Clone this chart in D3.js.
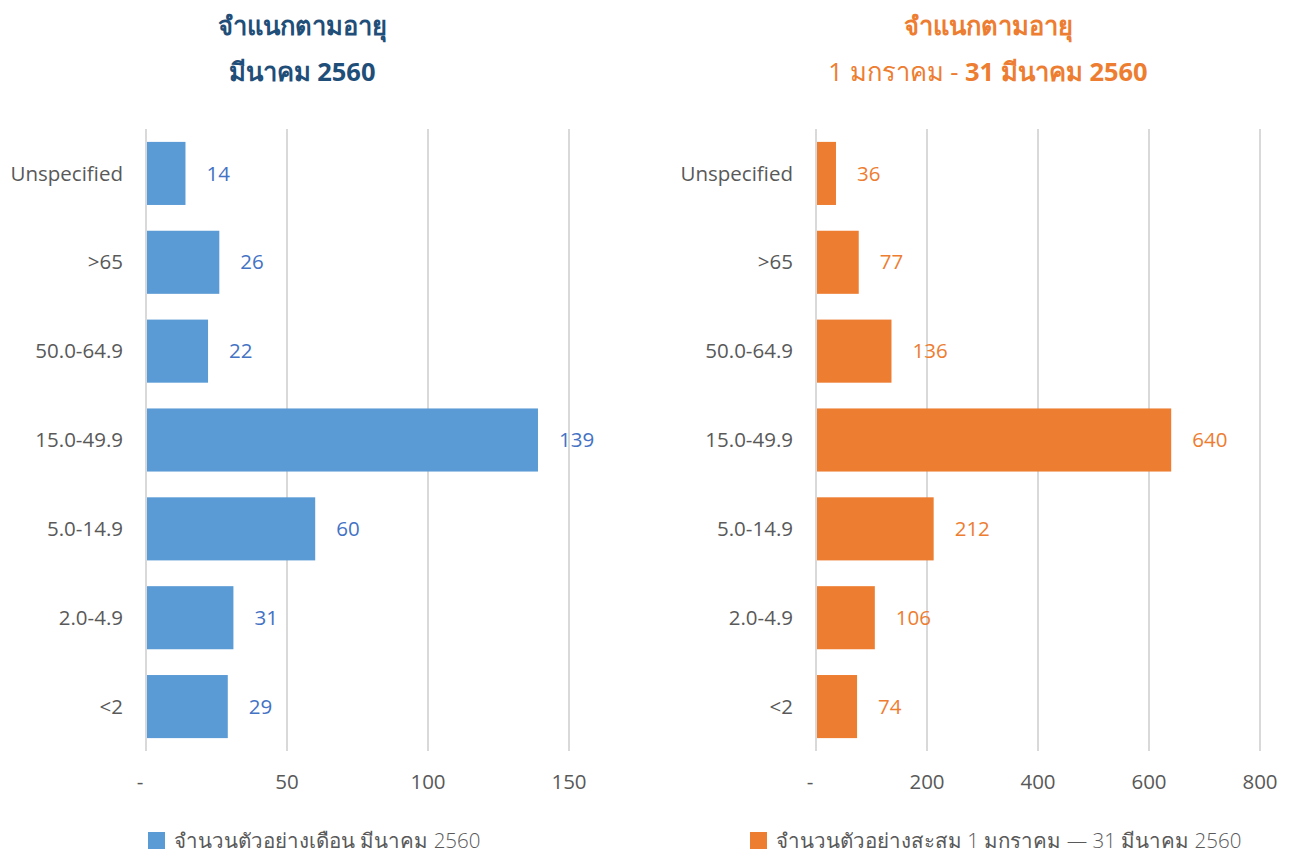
<!DOCTYPE html>
<html>
<head>
<meta charset="utf-8">
<script src="https://cdn.jsdelivr.net/npm/d3@7"></script>
<style>
  body { margin: 0; background: #fff; }
  svg { display: block; font-family: "Open Sans", "Noto Sans", sans-serif; }
</style>
</head>
<body>
<div id="chart"></div>
<script>
const categories = ["Unspecified", ">65", "50.0-64.9", "15.0-49.9", "5.0-14.9", "2.0-4.9", "<2"];
const monthValues = [14, 26, 22, 139, 60, 31, 29];
const cumulativeValues = [36, 77, 136, 640, 212, 106, 74];
const monthTicks = [0, 50, 100, 150];
const cumulativeTicks = [0, 200, 400, 600, 800];

const W = 1291, H = 855;
const svg = d3.select("#chart").append("svg").attr("width", W).attr("height", H);

const panels = [
  {
    values: monthValues, ticks: monthTicks, x0: 146, x1: 569, domain: [0, 150],
    barColor: "#5B9BD5", labelColor: "#4472C4", titleColor: "#1F4E79", cx: 302, catX: 123,
    title1: [{ t: "จำแนกตามอายุ", b: true }],
    title2: [{ t: "มีนาคม 2560", b: true }],
    legend: "จำนวนตัวอย่างเดือน มีนาคม 2560", legX: 148
  },
  {
    values: cumulativeValues, ticks: cumulativeTicks, x0: 816, x1: 1260, domain: [0, 800],
    barColor: "#ED7D31", labelColor: "#ED7D31", titleColor: "#ED7D31", cx: 988, catX: 793,
    title1: [{ t: "จำแนกตามอายุ", b: true }],
    title2: [{ t: "1 มกราคม - ", b: false }, { t: "31 มีนาคม 2560", b: true }],
    legend: "จำนวนตัวอย่างสะสม 1 มกราคม — 31 มีนาคม 2560", legX: 750
  }
];

const y = d3.scaleBand().domain(categories).range([129, 751]).paddingInner(0.29).paddingOuter(0.145);

panels.forEach(p => {
  const x = d3.scaleLinear().domain(p.domain).range([p.x0, p.x1]);
  const g = svg.append("g");

  // gridlines
  g.selectAll(".grid").data(p.ticks).join("line")
    .attr("x1", d => x(d)).attr("x2", d => x(d))
    .attr("y1", 129).attr("y2", 751)
    .attr("stroke", "#d9d9d9").attr("stroke-width", 2);

  // tick labels
  g.selectAll(".tick").data(p.ticks).join("text")
    .attr("x", d => x(d)).attr("y", 789)
    .attr("text-anchor", "middle").attr("fill", "#595959").attr("font-size", 20.5)
    .text(d => d === 0 ? "-" : d3.format(",")(d))
    .attr("dx", d => d === 0 ? -6 : 0);

  // bars
  g.selectAll(".bar").data(p.values).join("rect")
    .attr("x", x(0) + 1).attr("y", (d, i) => y(categories[i]))
    .attr("width", d => x(d) - x(0) - 1).attr("height", y.bandwidth())
    .attr("fill", p.barColor);

  // value labels
  g.selectAll(".val").data(p.values).join("text")
    .attr("x", d => x(d) + 21).attr("y", (d, i) => y(categories[i]) + y.bandwidth() / 2)
    .attr("dy", "0.35em").attr("fill", p.labelColor).attr("font-size", 20.5)
    .text(d => d);

  // category labels
  g.selectAll(".cat").data(categories).join("text")
    .attr("x", p.catX).attr("y", d => y(d) + y.bandwidth() / 2)
    .attr("dy", "0.35em").attr("text-anchor", "end").attr("fill", "#595959").attr("font-size", 20.5)
    .text(d => d);

  // titles
  [[p.title1, 35], [p.title2, 81]].forEach(([parts, ty]) => {
    const t = g.append("text").attr("x", p.cx).attr("y", ty).attr("text-anchor", "middle")
      .attr("fill", p.titleColor).attr("font-size", 25.5);
    parts.forEach(s => t.append("tspan").attr("font-weight", s.b ? "bold" : "normal").text(s.t));
  });

  // legend
  g.append("rect").attr("x", p.legX).attr("y", 832).attr("width", 17).attr("height", 17).attr("fill", p.barColor);
  g.append("text").attr("x", p.legX + 26).attr("y", 848).attr("fill", "#595959")
    .attr("font-size", 20.5).attr("font-weight", 300).text(p.legend);
});
</script>
</body>
</html>
